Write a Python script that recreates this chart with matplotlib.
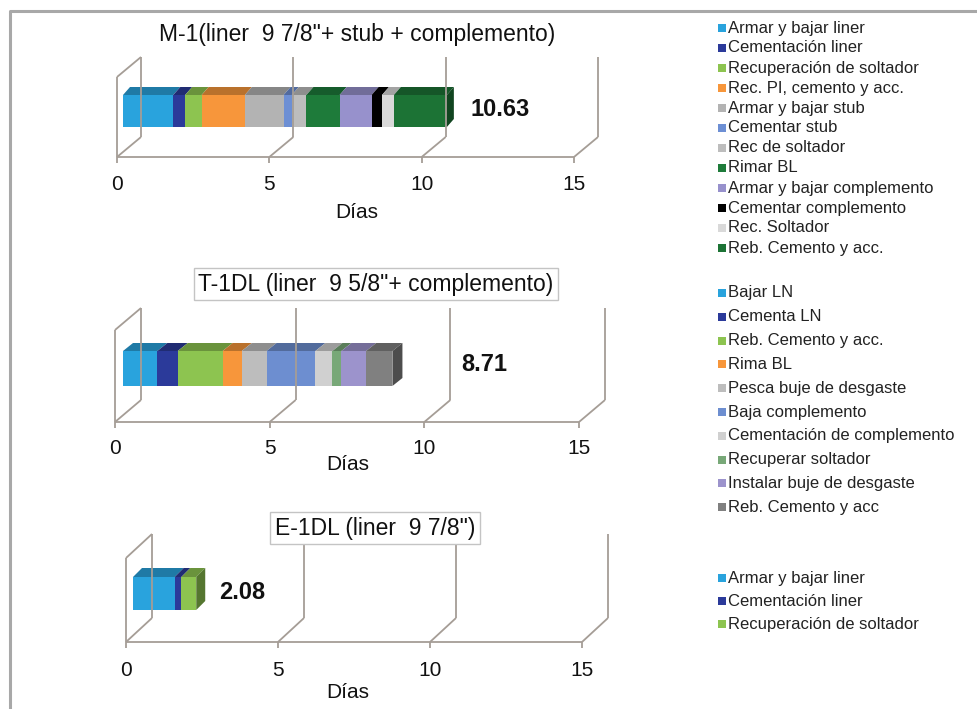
import numpy as np
import matplotlib
matplotlib.use("Agg")
import matplotlib.pyplot as plt
from matplotlib.patches import Polygon, Rectangle
from matplotlib.transforms import Affine2D
from matplotlib.colors import to_rgb

plt.rcParams['font.family'] = ['Liberation Sans', 'DejaVu Sans']

# ---- data ----
m1_title = 'M-1(liner  9 7/8"+ stub + complemento)'
m1_labels = ['Armar y bajar liner', 'Cementación liner', 'Recuperación de soltador',
             'Rec. PI, cemento y acc.', 'Armar y bajar stub', 'Cementar stub',
             'Rec de soltador', 'Rimar BL', 'Armar y bajar complemento',
             'Cementar complemento', 'Rec. Soltador', 'Reb. Cemento y acc.']
m1_days = [1.65, 0.39, 0.54, 1.42, 1.27, 0.27, 0.48, 1.09, 1.05, 0.34, 0.39, 1.74]
m1_total = 10.63

t1_title = 'T-1DL (liner  9 5/8"+ complemento)'
t1_labels = ['Bajar LN', 'Cementa LN', 'Reb. Cemento y acc.', 'Rima BL',
             'Pesca buje de desgaste', 'Baja complemento', 'Cementación de complemento',
             'Recuperar soltador', 'Instalar buje de desgaste', 'Reb. Cemento y acc']
t1_days = [1.11, 0.66, 1.45, 0.62, 0.80, 1.58, 0.55, 0.29, 0.80, 0.85]
t1_total = 8.71

e1_title = 'E-1DL (liner  9 7/8")'
e1_labels = ['Armar y bajar liner', 'Cementación liner', 'Recuperación de soltador']
e1_days = [1.37, 0.22, 0.49]
e1_total = 2.08

x_ticks = [0, 5, 10, 15]

# ---- styles ----
m1_colors = ['#29a3dd', '#2b3a9a', '#8dc450', '#f7963b', '#b3b3b3', '#6d8fd4',
             '#bdbdbd', '#1e7b3a', '#9791cc', '#000000', '#d9d9d9', '#1c7335']
t1_colors = ['#29a3dd', '#2b3a9a', '#8dc450', '#f7963b', '#bdbdbd', '#6d8ed0',
             '#d0d0d0', '#78a878', '#9c93cc', '#808080']
e1_colors = ['#29a3dd', '#2b3a9a', '#8dc450']

W, H = 978, 709
fig = plt.figure(figsize=(W / 100, H / 100), dpi=100)
px = Affine2D().scale(1 / W, -1 / H).translate(0, 1) + fig.transFigure

grid_c = '#a59d96'


def shade(c, f):
    r, g, b = to_rgb(c)
    return (r * f, g * f, b * f)


def draw_chart(days, colors, total, title, g, boxed):
    ppd = (g['x15'] - g['x0']) / 15.0
    ax = fig.add_axes([g['x0'] / W, (H - g['floor']) / H,
                       (g['x15'] - g['x0']) / W, g['H'] / H])
    ax.set_xlim(0, 15)
    ax.set_ylim(0, g['H'])
    ax.axis('off')
    dxd = g['dx'] / ppd
    dy = g['dy']
    hgt = g['H']
    kw = dict(color=grid_c, lw=1.3, clip_on=False, solid_capstyle='butt')
    # floor and walls
    ax.plot([0, 15], [0, 0], **kw)
    ax.plot([0, 0], [0, hgt], **kw)
    ax.plot([0, dxd], [hgt, hgt + dy], **kw)
    for t in x_ticks:
        ax.plot([t, t], [0, -6], **kw)
        ax.plot([t, t + dxd], [0, dy], **kw)
        ax.plot([t + dxd, t + dxd], [dy, dy + hgt], **kw)
        ax.text(t, -g['tick_y'], str(t), ha='center', va='center', fontsize=15,
                color='#111111')
    ax.text((g['xl_x'] - g['x0']) / ppd, -g['xl_y'], 'Días', ha='center',
            va='center', fontsize=15, color='#111111')

    # stacked 3d bar
    shift = g['shift'] / ppd
    bdx = g['bdx'] / ppd
    bdy = g['bdy']
    y0 = g['bar_bot']
    bh = g['bar_h']
    lefts = np.concatenate([[0], np.cumsum(days)[:-1]])
    ax.barh(y0 + bh / 2, days, left=lefts + shift, height=bh, color=colors,
            linewidth=0, clip_on=False)
    top = y0 + bh
    for l, w, c in zip(lefts, days, colors):
        a, b = l + shift, l + w + shift
        ax.add_patch(Polygon([(a, top), (b, top), (b + bdx, top + bdy), (a + bdx, top + bdy)],
                             closed=True, fc=shade(c, 0.75), ec='none', clip_on=False))
    end = lefts[-1] + days[-1] + shift
    ax.add_patch(Polygon([(end, y0), (end, top), (end + bdx, top + bdy), (end + bdx, y0 + bdy)],
                         closed=True, fc=shade(colors[-1], 0.6), ec='none', clip_on=False))
    ax.text(end + g['lab_gap'] / ppd, y0 + bh / 2 + g['lab_dy'], f'{total:.2f}',
            ha='left', va='center', fontsize=17, fontweight='bold', color='#111111')

    bbox = None
    if boxed:
        bbox = dict(boxstyle='square,pad=0.2', fc='white', ec='#c4c4c4', lw=1)
    fig.text(g['tx'], g['ty'], title, ha='center', va='center', fontsize=16.5,
             color='#111111', transform=px, bbox=bbox)


def draw_legend(labels, colors, y_first, pitch):
    for i, (lab, c) in enumerate(zip(labels, colors)):
        yc = y_first + i * pitch
        fig.add_artist(Rectangle((718, yc - 4), 8, 8, transform=px, fc=c, ec='none'))
        fig.text(728, yc, lab, ha='left', va='center', fontsize=12,
                 color='#222222', transform=px)


g1 = dict(x0=117, x15=574, floor=157, H=80, dx=24, dy=20, shift=6, bar_bot=30,
          bar_h=32, bdx=7, bdy=8, lab_gap=24, lab_dy=1, tick_y=28, xl_x=357, xl_y=56,
          tx=357, ty=35)
g2 = dict(x0=115, x15=579, floor=422, H=92, dx=26, dy=22, shift=8, bar_bot=36,
          bar_h=35, bdx=10, bdy=8, lab_gap=69, lab_dy=4, tick_y=26, xl_x=348, xl_y=43,
          tx=376, ty=284)
g3 = dict(x0=126, x15=582, floor=642, H=84, dx=26, dy=24, shift=7, bar_bot=32,
          bar_h=33, bdx=9, bdy=9, lab_gap=23, lab_dy=1, tick_y=28, xl_x=348, xl_y=50,
          tx=375, ty=528)

draw_chart(m1_days, m1_colors, m1_total, m1_title, g1, False)
draw_chart(t1_days, t1_colors, t1_total, t1_title, g2, True)
draw_chart(e1_days, e1_colors, e1_total, e1_title, g3, True)

draw_legend(m1_labels, m1_colors, 28, 20)
draw_legend(t1_labels, t1_colors, 293, 23.8)
draw_legend(e1_labels, e1_colors, 578, 23)

# outer frame (top and left edges)
fig.add_artist(plt.Line2D([10, 10, W + 5], [H + 5, 11, 11], transform=px,
                          color='#a8a8a8', lw=2.2))

fig.savefig('out.png', dpi=100, facecolor='white')
